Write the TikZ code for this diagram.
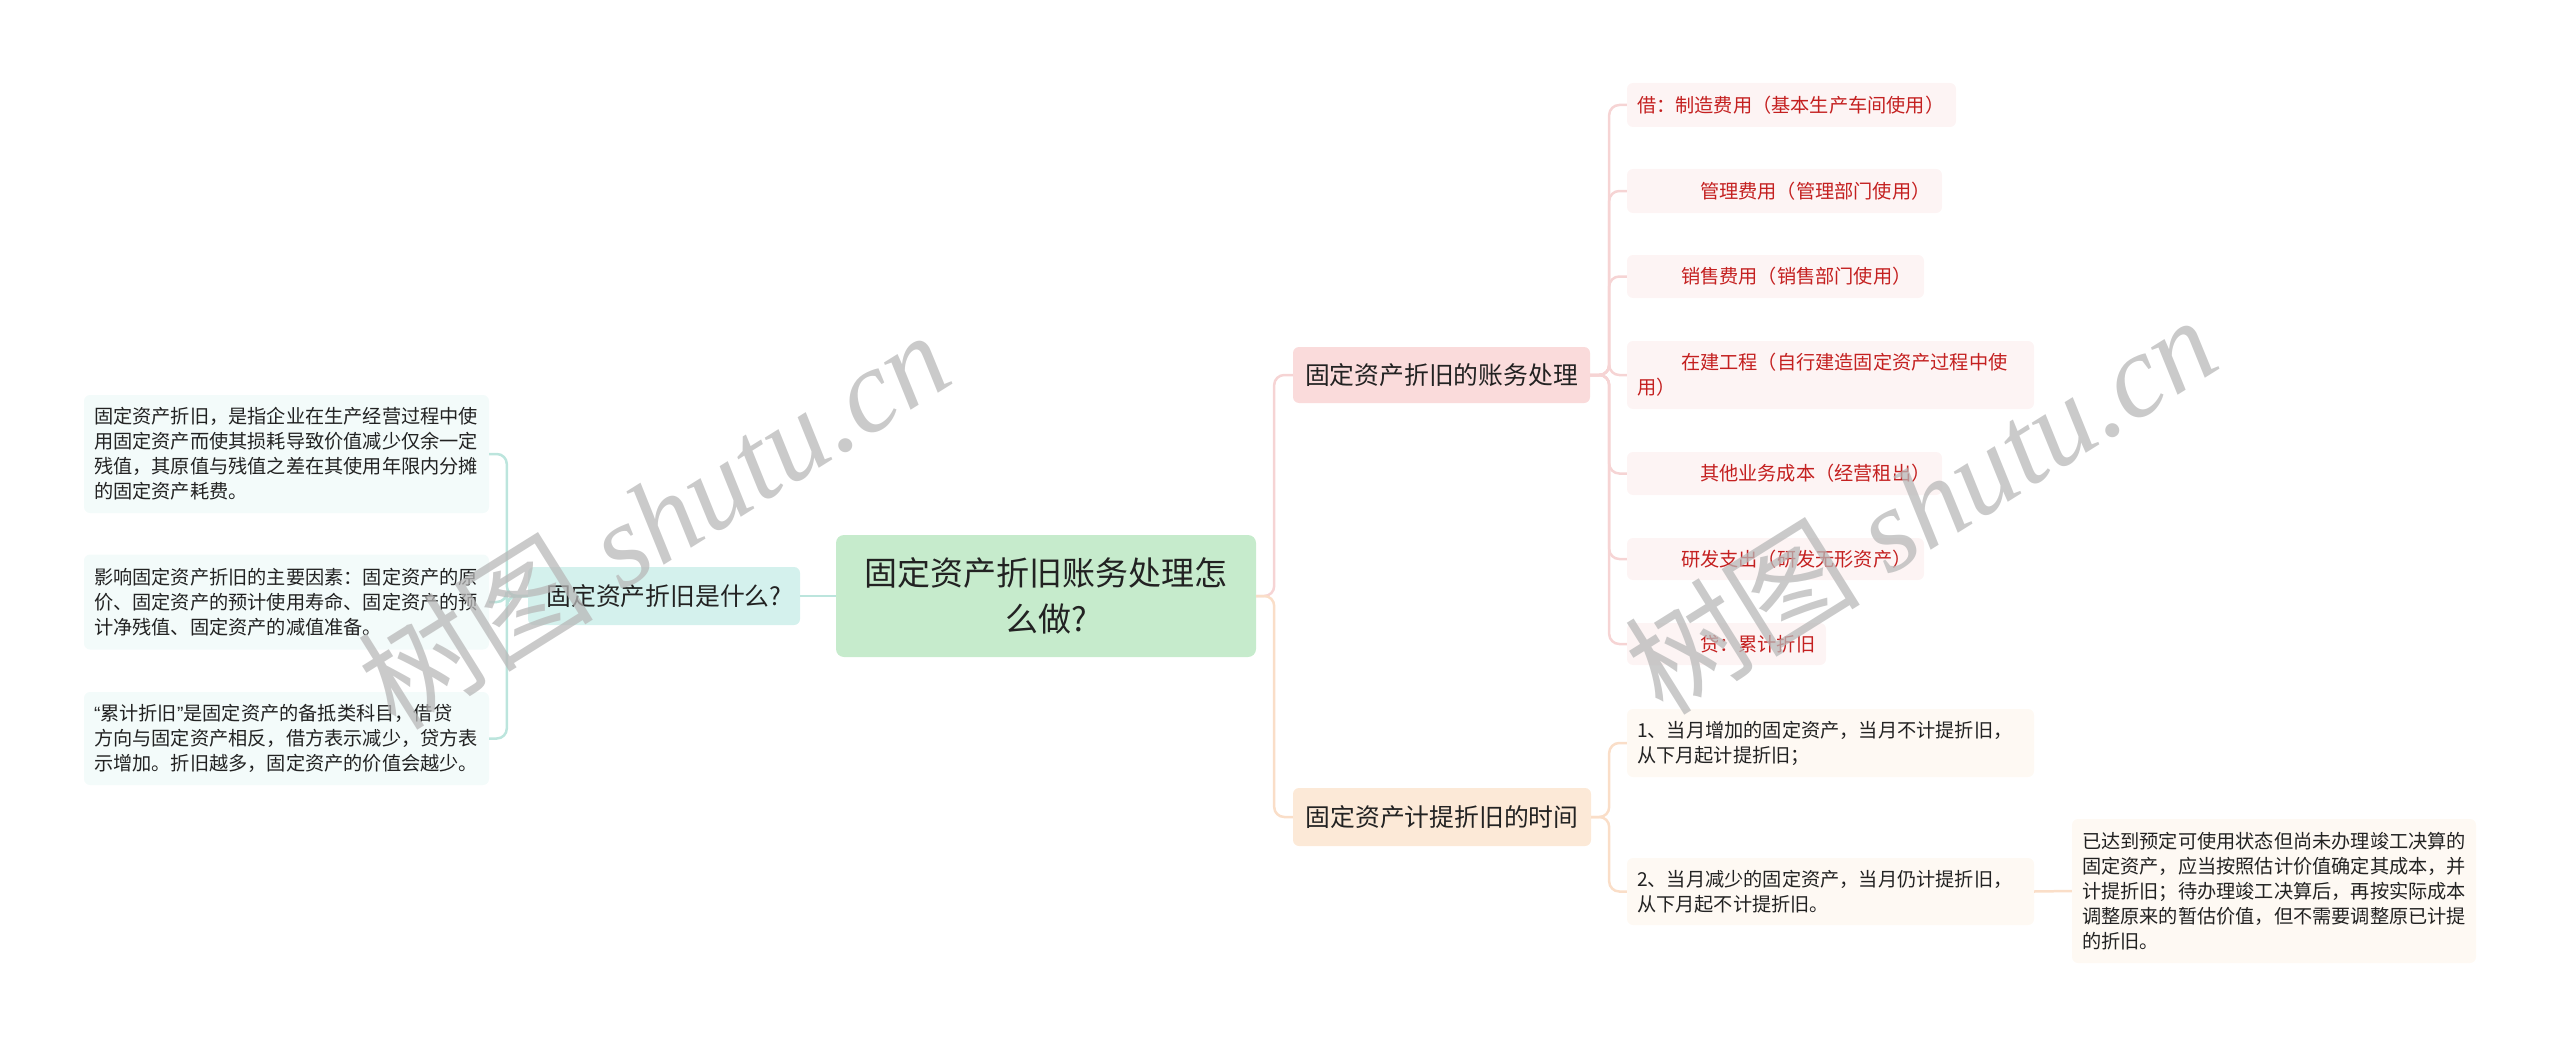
\documentclass[tikz,border=0pt]{standalone}
\usepackage{fontspec}
\setmainfont{Noto Sans CJK SC}
\newfontfamily\wmlatin{Liberation Serif}
\newfontfamily\latinsans{Liberation Sans}
\definecolor{rootfill}{RGB}{198,235,204}
\definecolor{qfill}{RGB}{212,241,237}
\definecolor{lfill}{RGB}{243,251,250}
\definecolor{lline}{RGB}{188,229,221}
\definecolor{bafill}{RGB}{250,219,219}
\definecolor{rfill}{RGB}{253,244,244}
\definecolor{baline}{RGB}{246,212,212}
\definecolor{redtext}{RGB}{196,32,32}
\definecolor{bbfill}{RGB}{252,233,215}
\definecolor{tfill}{RGB}{254,249,243}
\definecolor{bbline}{RGB}{250,222,200}
\definecolor{darktext}{RGB}{34,34,34}
\tikzset{
  box/.style={rounded corners=6pt, inner xsep=10pt, inner ysep=0pt, anchor=center, text=darktext},
  smallfont/.style={font=\fontsize{19.2pt}{25pt}\selectfont},
  midfont/.style={font=\fontsize{24.8pt}{30pt}\selectfont},
  bigfont/.style={font=\fontsize{33pt}{46pt}\selectfont},
  leafbox/.style={box, smallfont, align=left},
  conn/.style={line width=2.5pt, rounded corners=10pt},
  wm/.style={text=black!28, text opacity=0.75, font=\fontsize{118pt}{118pt}\selectfont, inner sep=0pt}
}
\begin{document}
\begin{tikzpicture}[x=1pt, y=-1pt]
\useasboundingbox (0,0) rectangle (2560,1046);
% root
\node[box, bigfont, fill=rootfill, rounded corners=8pt, minimum width=420pt, minimum height=122pt, align=center] (root) at (1046,596) {固定资产折旧账务处理怎\\么做?};
% left side
\node[box, midfont, fill=qfill, minimum width=272pt, minimum height=58pt] (q) at (664,596) {固定资产折旧是什么?};
\node[leafbox, fill=lfill, text width=385pt, minimum height=118pt] (l1) at (286.5,454) {固定资产折旧，是指企业在生产经营过程中使\\用固定资产而使其损耗导致价值减少仅余一定\\残值，其原值与残值之差在其使用年限内分摊\\的固定资产耗费。};
\node[leafbox, fill=lfill, text width=385pt, minimum height=95pt] (l2) at (286.5,602) {影响固定资产折旧的主要因素：固定资产的原\\价、固定资产的预计使用寿命、固定资产的预\\计净残值、固定资产的减值准备。};
\node[leafbox, fill=lfill, text width=385pt, minimum height=93pt] (l3) at (286.5,738.5) {{\latinsans “}累计折旧{\latinsans ”}是固定资产的备抵类科目，借贷\\方向与固定资产相反，借方表示减少，贷方表\\示增加。折旧越多，固定资产的价值会越少。};
% right branches
\node[box, midfont, fill=bafill, minimum width=297pt, minimum height=56pt] (ba) at (1441.5,375) {固定资产折旧的账务处理};
\node[box, midfont, fill=bbfill, minimum width=298pt, minimum height=58pt] (bb) at (1442,817) {固定资产计提折旧的时间};
% red leaves
\node[leafbox, fill=rfill, text=redtext, text width=309pt, minimum height=44pt] (r1) at (1791.5,105) {借：制造费用（基本生产车间使用）};
\node[leafbox, fill=rfill, text=redtext, text width=295pt, minimum height=44pt] (r2) at (1784.5,191) {\hspace*{63pt}管理费用（管理部门使用）};
\node[leafbox, fill=rfill, text=redtext, text width=277pt, minimum height=43pt] (r3) at (1775.5,276.5) {\hspace*{44pt}销售费用（销售部门使用）};
\node[leafbox, fill=rfill, text=redtext, text width=387pt, minimum height=68pt] (r4) at (1830.5,375) {\hspace*{44pt}在建工程（自行建造固定资产过程中使\\用）};
\node[leafbox, fill=rfill, text=redtext, text width=295pt, minimum height=43pt] (r5) at (1784.5,473.5) {\hspace*{63pt}其他业务成本（经营租出）};
\node[leafbox, fill=rfill, text=redtext, text width=277pt, minimum height=42pt] (r6) at (1775.5,559) {\hspace*{44pt}研发支出（研发无形资产）};
\node[leafbox, fill=rfill, text=redtext, text width=179pt, minimum height=42pt] (r7) at (1726.5,644) {\hspace*{63pt}贷：累计折旧};
% time leaves
\node[leafbox, fill=tfill, text width=387pt, minimum height=68pt] (t1) at (1830.5,743) {1、当月增加的固定资产，当月不计提折旧，\\从下月起计提折旧；};
\node[leafbox, fill=tfill, text width=387pt, minimum height=67pt] (t2) at (1830.5,891.5) {2、当月减少的固定资产，当月仍计提折旧，\\从下月起不计提折旧。};
\node[leafbox, fill=tfill, text width=384pt, minimum height=144pt] (s) at (2274,891) {已达到预定可使用状态但尚未办理竣工决算的\\固定资产，应当按照估计价值确定其成本，并\\计提折旧；待办理竣工决算后，再按实际成本\\调整原来的暂估价值，但不需要调整原已计提\\的折旧。};
% connectors
\draw[conn, lline] (root.west) -- (q.east);
\foreach \c in {l1,l2,l3} \draw[conn, lline] (q.west) -- ++(-21,0) |- (\c.east);
\draw[conn, baline] (root.east) -- ++(18,0) |- (ba.west);
\draw[conn, bbline] (root.east) -- ++(18,0) |- (bb.west);
\foreach \c in {r1,r2,r3,r4,r5,r6,r7} \draw[conn, baline] (ba.east) -- ++(19,0) |- (\c.west);
\foreach \c in {t1,t2} \draw[conn, bbline] (bb.east) -- ++(18,0) |- (\c.west);
\draw[conn, bbline] (t2.east) -- (s.west);
% watermarks
\node[wm, rotate=32] (wm1) at (653,519) {树图{\wmlatin\itshape\ shutu.cn}};
\node[wm, rotate=32] (wm2) at (1920,504) {树图{\wmlatin\itshape\ shutu.cn}};
\end{tikzpicture}
\end{document}
